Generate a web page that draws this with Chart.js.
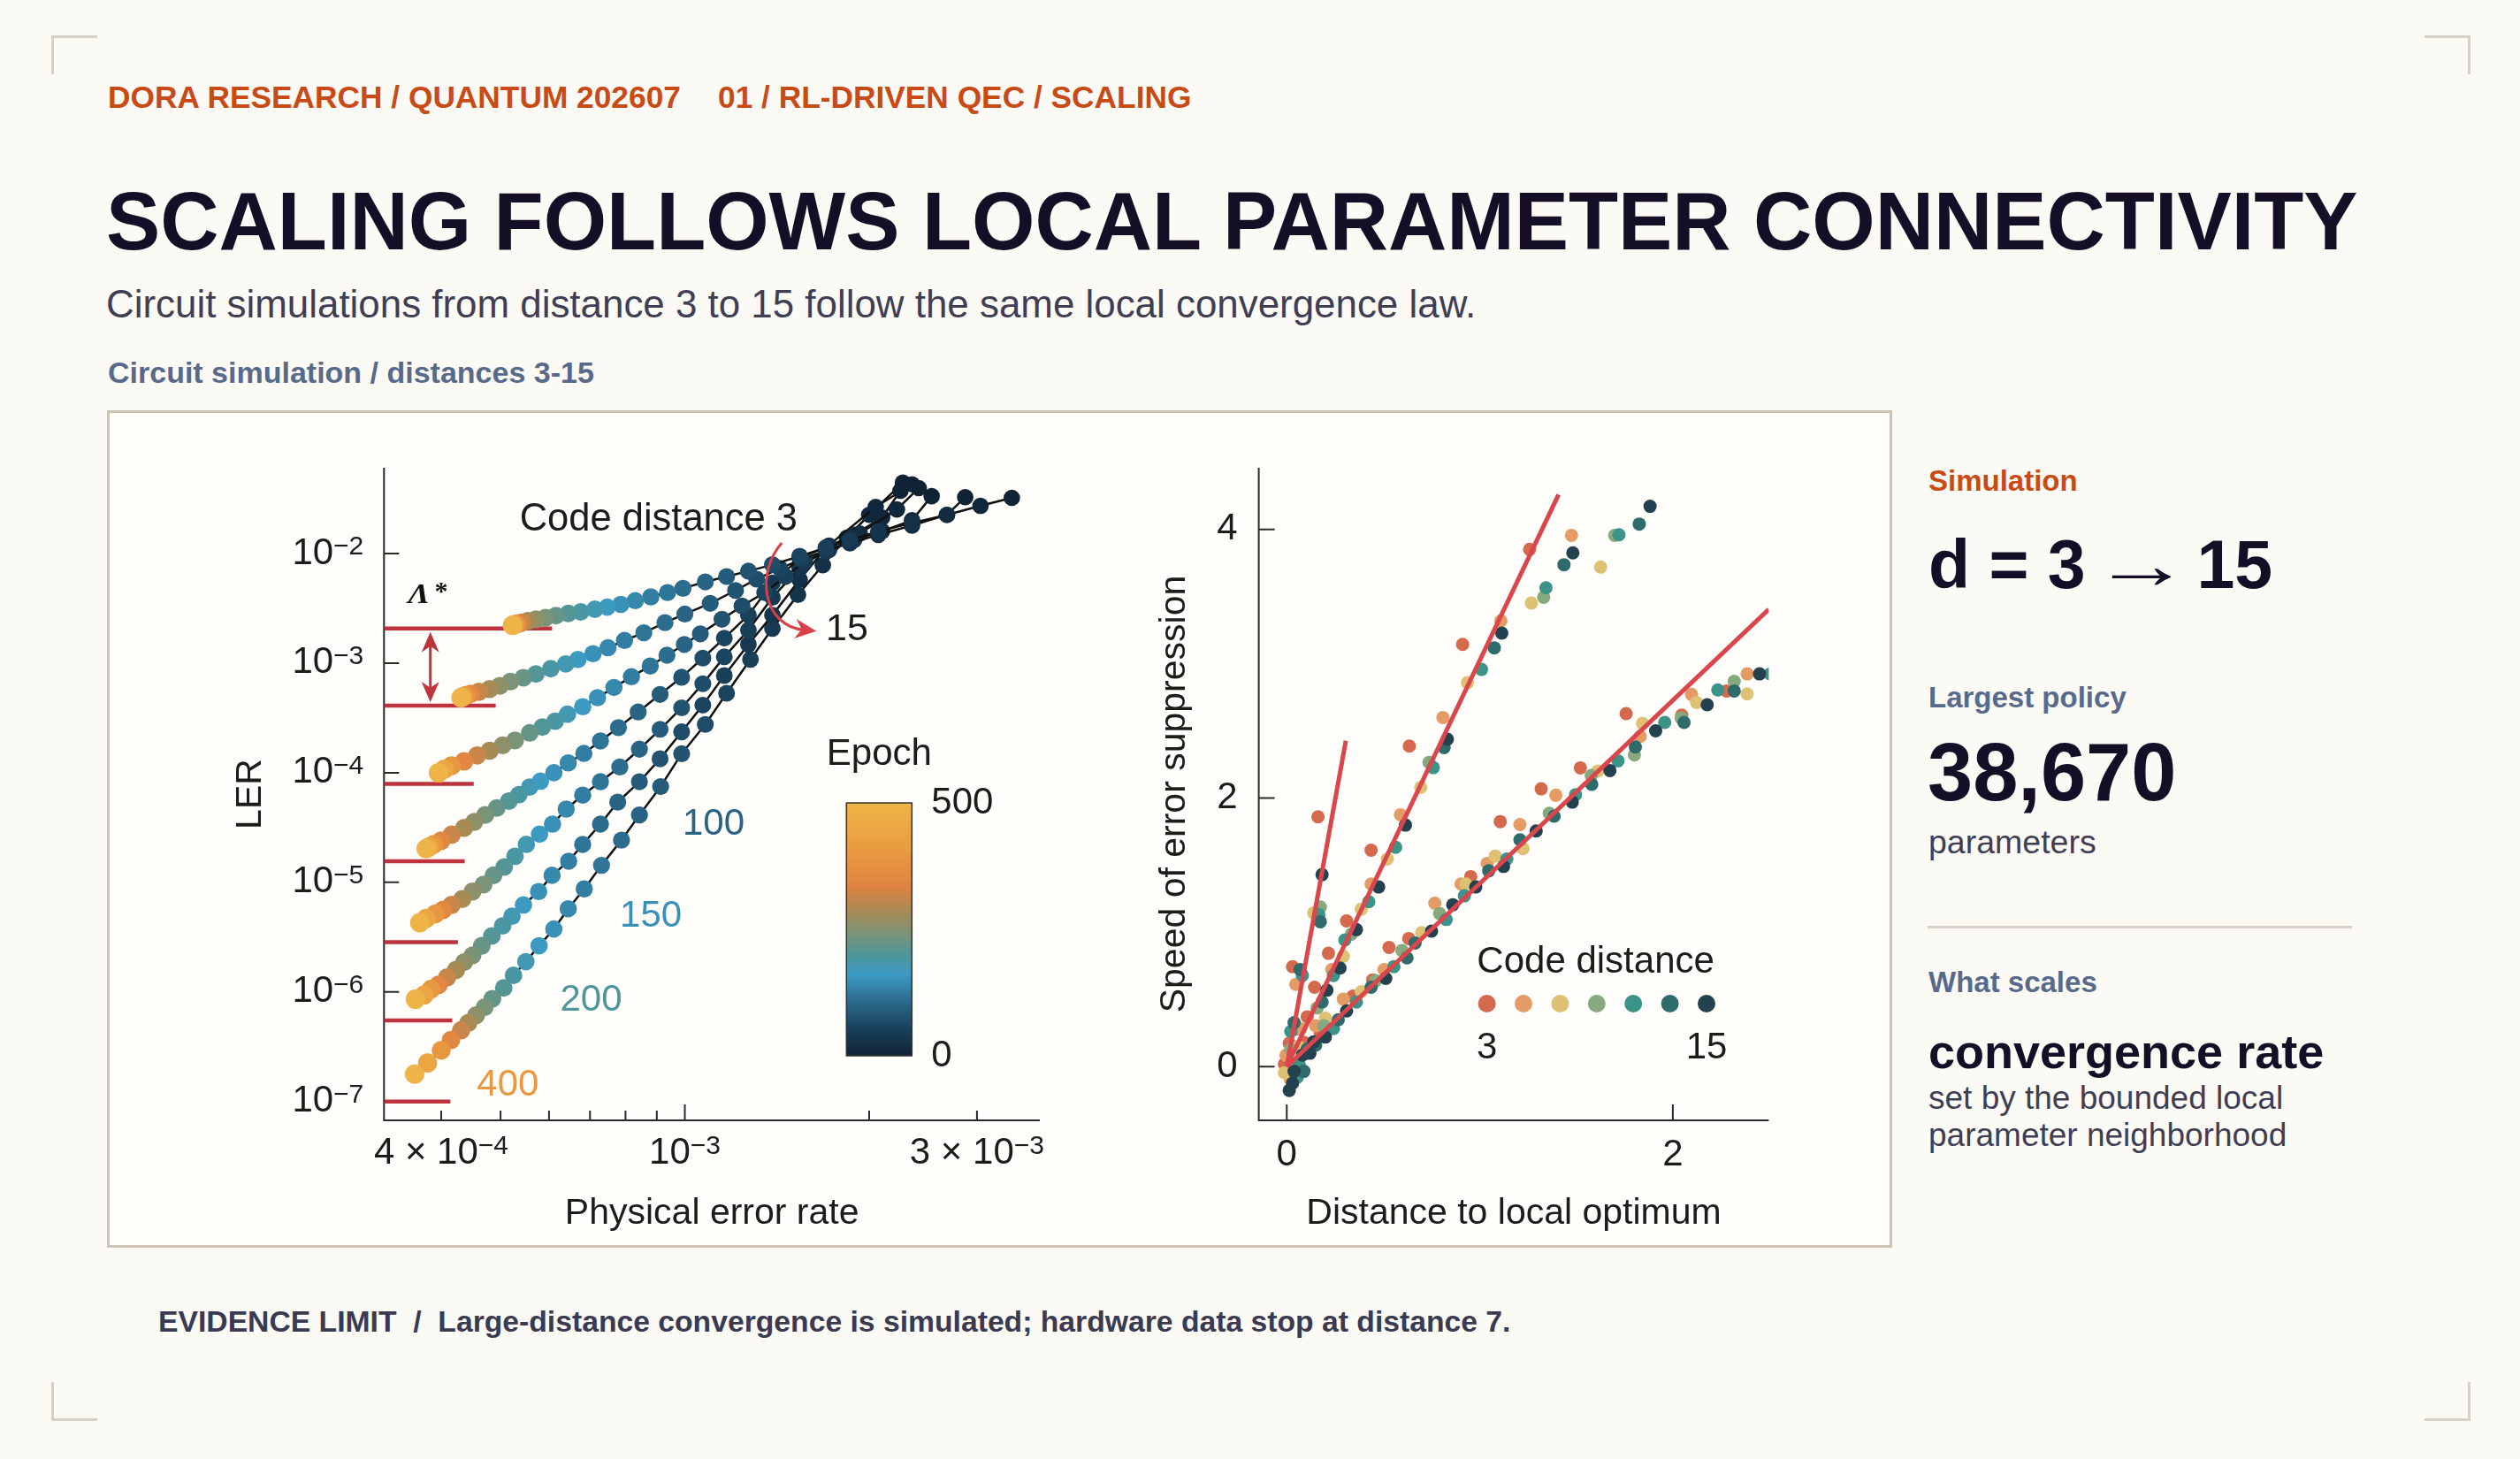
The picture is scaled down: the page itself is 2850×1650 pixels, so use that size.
<!DOCTYPE html>
<html lang="en">
<head>
<meta charset="utf-8">
<title>Scaling follows local parameter connectivity</title>
<script src="https://cdn.jsdelivr.net/npm/chart.js@4.4.1/dist/chart.umd.min.js"></script>
<style>
  html, body { margin: 0; padding: 0; }
  body {
    width: 2850px; height: 1650px; position: relative; overflow: hidden;
    background: #fcfaf5;
    font-family: "Liberation Sans", Arial, Helvetica, sans-serif;
  }
  .t { position: absolute; line-height: 1; white-space: nowrap; }
  .b { font-weight: bold; }
  .corner { position: absolute; background: #d5d1c9; }
  #panel {
    position: absolute; left: 121px; top: 464px; width: 2019px; height: 947px;
    box-sizing: border-box; border: 3px solid #cfc1b2; background: #fffefa;
  }
  .arrow { font-weight: normal; display: inline-block; transform: scaleX(1.45); margin: 0 3px; }
  canvas { position: absolute; }
</style>
</head>
<body>

<div class="corner" style="left:58px;top:40px;width:52px;height:3px"></div>
<div class="corner" style="left:58px;top:40px;width:3px;height:44px"></div>
<div class="corner" style="left:2742px;top:40px;width:52px;height:3px"></div>
<div class="corner" style="left:2791px;top:40px;width:3px;height:44px"></div>
<div class="corner" style="left:58px;top:1604px;width:52px;height:3px"></div>
<div class="corner" style="left:58px;top:1563px;width:3px;height:44px"></div>
<div class="corner" style="left:2742px;top:1604px;width:52px;height:3px"></div>
<div class="corner" style="left:2791px;top:1563px;width:3px;height:44px"></div>

<div class="t b" style="left:122px;top:92px;font-size:35.3px;color:#c84b17">DORA RESEARCH / QUANTUM 202607</div>
<div class="t b" style="left:812px;top:92px;font-size:35.3px;color:#c84b17">01 / RL-DRIVEN QEC / SCALING</div>
<div class="t b" style="left:120px;top:205px;font-size:91.8px;color:#140f26">SCALING FOLLOWS LOCAL PARAMETER CONNECTIVITY</div>
<div class="t" style="left:120px;top:322px;font-size:43.9px;color:#3f3e55">Circuit simulations from distance 3 to 15 follow the same local convergence law.</div>
<div class="t b" style="left:122px;top:404px;font-size:34px;color:#586a8c">Circuit simulation / distances 3-15</div>

<div id="panel"></div>
<canvas id="lerChart" width="1100" height="935" style="left:130px;top:470px"></canvas>
<canvas id="speedChart" width="890" height="935" style="left:1240px;top:470px"></canvas>

<div class="t b" style="left:2181px;top:527px;font-size:33px;color:#c84b17">Simulation</div>
<div class="t b" style="left:2181px;top:600px;font-size:77px;color:#140f26">d = 3 <span class="arrow">→</span> 15</div>
<div class="t b" style="left:2181px;top:772px;font-size:33px;color:#586a8c">Largest policy</div>
<div class="t b" style="left:2180px;top:827px;font-size:92px;color:#140f26">38,670</div>
<div class="t" style="left:2181px;top:934px;font-size:37.5px;color:#3f3e55">parameters</div>
<div style="position:absolute;left:2180px;top:1047px;width:480px;height:3px;background:#d8d2c8"></div>
<div class="t b" style="left:2181px;top:1094px;font-size:33px;color:#586a8c">What scales</div>
<div class="t b" style="left:2181px;top:1162px;font-size:54px;color:#140f26">convergence rate</div>
<div class="t" style="left:2181px;top:1223px;font-size:37px;color:#3f3e55">set by the bounded local</div>
<div class="t" style="left:2181px;top:1265px;font-size:37px;color:#3f3e55">parameter neighborhood</div>

<div class="t b" style="left:179px;top:1478px;font-size:33.7px;color:#3a3a52">EVIDENCE LIMIT&nbsp;&nbsp;/&nbsp;&nbsp;Large-distance convergence is simulated; hardware data stop at distance 7.</div>

<script>
// ---------- left panel: LER against physical error rate, one curve per code distance ----------
const DISTANCES = [3, 5, 7, 9, 11, 13, 15];
const EPOCH_MAX = 500;
const EPOCHS = [0, 8, 16, 24, 32, 40, 50, 60, 70, 80, 90, 100, 110, 120, 130, 140, 150, 162, 175, 190, 205, 222, 240, 260, 285, 315, 350, 395, 445, 500];

const PER_D3 = [3.42e-3, 3.04e-3, 2.68e-3, 2.35e-3, 2.07e-3, 1.86e-3, 1.70e-3, 1.54e-3, 1.39e-3, 1.27e-3, 1.17e-3, 1.08e-3, 9.93e-4, 9.37e-4, 8.80e-4, 8.30e-4, 7.86e-4, 7.47e-4, 7.13e-4, 6.76e-4, 6.45e-4, 6.16e-4, 5.92e-4, 5.71e-4, 5.54e-4, 5.41e-4, 5.34e-4, 5.29e-4, 5.25e-4, 5.23e-4];
const LER_D3 = [3.22e-2, 2.72e-2, 2.25e-2, 1.90e-2, 1.59e-2, 1.33e-2, 1.13e-2, 9.45e-3, 7.90e-3, 6.90e-3, 6.16e-3, 5.51e-3, 4.81e-3, 4.40e-3, 4.02e-3, 3.71e-3, 3.43e-3, 3.24e-3, 3.10e-3, 2.93e-3, 2.84e-3, 2.71e-3, 2.59e-3, 2.51e-3, 2.42e-3, 2.34e-3, 2.29e-3, 2.26e-3, 2.24e-3, 2.21e-3];
const PER_D5 = [2.87e-3, 2.68e-3, 2.35e-3, 2.07e-3, 1.86e-3, 1.70e-3, 1.55e-3, 1.43e-3, 1.31e-3, 1.21e-3, 1.10e-3, 1.00e-3, 9.28e-4, 8.57e-4, 7.97e-4, 7.49e-4, 7.08e-4, 6.69e-4, 6.39e-4, 6.04e-4, 5.71e-4, 5.45e-4, 5.19e-4, 4.99e-4, 4.80e-4, 4.61e-4, 4.47e-4, 4.39e-4, 4.34e-4, 4.31e-4];
const LER_D5 = [3.26e-2, 2.25e-2, 1.80e-2, 1.48e-2, 1.24e-2, 1.06e-2, 8.84e-3, 7.30e-3, 5.83e-3, 4.60e-3, 3.51e-3, 2.80e-3, 2.34e-3, 1.89e-3, 1.61e-3, 1.38e-3, 1.22e-3, 1.08e-3, 9.84e-4, 8.90e-4, 7.95e-4, 7.35e-4, 6.79e-4, 6.21e-4, 5.80e-4, 5.48e-4, 5.24e-4, 5.07e-4, 4.95e-4, 4.84e-4];
const PER_D7 = [2.53e-3, 2.35e-3, 2.10e-3, 1.89e-3, 1.72e-3, 1.57e-3, 1.46e-3, 1.35e-3, 1.24e-3, 1.15e-3, 1.06e-3, 9.98e-4, 9.35e-4, 8.78e-4, 8.18e-4, 7.66e-4, 7.20e-4, 6.81e-4, 6.43e-4, 6.14e-4, 5.85e-4, 5.58e-4, 5.28e-4, 5.04e-4, 4.80e-4, 4.58e-4, 4.36e-4, 4.16e-4, 4.05e-4, 3.96e-4];
const LER_D7 = [3.33e-2, 2.01e-2, 1.60e-2, 1.33e-2, 1.08e-2, 8.45e-3, 6.16e-3, 4.40e-3, 3.32e-3, 2.51e-3, 1.85e-3, 1.48e-3, 1.18e-3, 9.41e-4, 7.51e-4, 6.00e-4, 4.84e-4, 4.00e-4, 3.42e-4, 2.95e-4, 2.61e-4, 2.31e-4, 1.97e-4, 1.78e-4, 1.59e-4, 1.44e-4, 1.27e-4, 1.16e-4, 1.08e-4, 1.00e-4];
const PER_D9 = [2.41e-3, 2.22e-3, 1.93e-3, 1.72e-3, 1.54e-3, 1.39e-3, 1.27e-3, 1.16e-3, 1.07e-3, 9.88e-4, 9.11e-4, 8.39e-4, 7.79e-4, 7.28e-4, 6.84e-4, 6.45e-4, 6.11e-4, 5.81e-4, 5.58e-4, 5.36e-4, 5.16e-4, 4.93e-4, 4.72e-4, 4.53e-4, 4.36e-4, 4.16e-4, 4.00e-4, 3.89e-4, 3.82e-4, 3.78e-4];
const LER_D9 = [3.95e-2, 2.52e-2, 1.52e-2, 1.18e-2, 9.04e-3, 5.38e-3, 2.74e-3, 1.69e-3, 1.11e-3, 7.43e-4, 5.18e-4, 3.58e-4, 2.58e-4, 1.95e-4, 1.50e-4, 1.23e-4, 1.00e-4, 8.37e-5, 7.40e-5, 6.32e-5, 5.52e-5, 4.77e-5, 4.12e-5, 3.56e-5, 3.14e-5, 2.72e-5, 2.40e-5, 2.22e-5, 2.10e-5, 2.03e-5];
const PER_D11 = [2.25e-3, 2.10e-3, 1.89e-3, 1.70e-3, 1.54e-3, 1.39e-3, 1.27e-3, 1.16e-3, 1.07e-3, 9.88e-4, 9.11e-4, 8.43e-4, 7.83e-4, 7.28e-4, 6.81e-4, 6.40e-4, 6.08e-4, 5.79e-4, 5.51e-4, 5.28e-4, 5.07e-4, 4.87e-4, 4.69e-4, 4.50e-4, 4.33e-4, 4.16e-4, 4.03e-4, 3.91e-4, 3.78e-4, 3.69e-4];
const LER_D11 = [3.73e-2, 2.13e-2, 1.48e-2, 1.08e-2, 7.38e-3, 3.97e-3, 2.00e-3, 1.14e-3, 6.49e-4, 3.91e-4, 2.49e-4, 1.64e-4, 1.13e-4, 8.28e-5, 6.25e-5, 4.66e-5, 3.40e-5, 2.75e-5, 2.22e-5, 1.73e-5, 1.38e-5, 1.16e-5, 9.54e-6, 8.24e-6, 7.04e-6, 6.22e-6, 5.62e-6, 5.14e-6, 4.69e-6, 4.29e-6];
const PER_D13 = [2.35e-3, 2.05e-3, 1.70e-3, 1.54e-3, 1.39e-3, 1.27e-3, 1.16e-3, 1.07e-3, 9.88e-4, 9.11e-4, 8.43e-4, 7.77e-4, 7.28e-4, 6.81e-4, 6.46e-4, 6.07e-4, 5.77e-4, 5.45e-4, 5.22e-4, 5.04e-4, 4.84e-4, 4.66e-4, 4.50e-4, 4.36e-4, 4.23e-4, 4.09e-4, 3.96e-4, 3.85e-4, 3.75e-4, 3.63e-4];
const LER_D13 = [4.27e-2, 2.66e-2, 1.13e-2, 5.76e-3, 2.74e-3, 1.48e-3, 7.69e-4, 4.14e-4, 2.36e-4, 1.34e-4, 8.28e-5, 5.40e-5, 3.40e-5, 2.22e-5, 1.56e-5, 1.16e-5, 8.24e-6, 6.22e-6, 4.91e-6, 4.01e-6, 3.24e-6, 2.64e-6, 2.16e-6, 1.87e-6, 1.59e-6, 1.36e-6, 1.16e-6, 1.06e-6, 9.39e-7, 8.58e-7];
const PER_D15 = [2.27e-3, 2.00e-3, 1.84e-3, 1.68e-3, 1.53e-3, 1.39e-3, 1.28e-3, 1.17e-3, 1.08e-3, 9.88e-4, 9.13e-4, 8.43e-4, 7.88e-4, 7.31e-4, 6.85e-4, 6.45e-4, 6.11e-4, 5.78e-4, 5.50e-4, 5.25e-4, 5.06e-4, 4.85e-4, 4.71e-4, 4.56e-4, 4.43e-4, 4.31e-4, 4.15e-4, 4.00e-4, 3.80e-4, 3.62e-4];
const LER_D15 = [4.42e-2, 2.25e-2, 1.39e-2, 7.81e-3, 4.20e-3, 2.07e-3, 1.08e-3, 5.30e-4, 2.76e-4, 1.49e-4, 7.48e-5, 4.12e-5, 2.43e-5, 1.43e-5, 8.72e-6, 5.75e-6, 3.75e-6, 2.64e-6, 1.89e-6, 1.42e-6, 1.09e-6, 8.68e-7, 7.25e-7, 6.12e-7, 5.23e-7, 4.47e-7, 3.65e-7, 2.94e-7, 2.25e-7, 1.78e-7];

// converged LER per distance (the red Lambda* levels) and where each red bar stops
const LAMBDA_LER = [2.07e-3, 4.1e-4, 7.9e-5, 1.56e-5, 2.85e-6, 5.5e-7, 1.0e-7];
const LAMBDA_PER_END = [6.07e-4, 4.91e-4, 4.52e-4, 4.37e-4, 4.26e-4, 4.17e-4, 4.14e-4];

// axes of the left panel
const PER_MIN = 3.226e-4, PER_MAX = 3.80e-3;
const LER_MIN = 6.75e-8, LER_MAX = 6.05e-2;
const LER_TICKS = [1e-2, 1e-3, 1e-4, 1e-5, 1e-6, 1e-7];
const PER_TICKS = [4e-4, 5e-4, 6e-4, 7e-4, 8e-4, 9e-4, 1e-3, 2e-3, 3e-3];
const PER_LABELED = [4e-4, 1e-3, 3e-3];
const PER_TICK_TEXT = [['4 × 10', '−4'], ['10', '−3'], ['3 × 10', '−3']];

// epoch annotations written beside the d = 15 curve
const EPOCH_NOTES = [100, 150, 200, 400];
const EPOCH_NOTE_PER = [1.114e-3, 8.80e-4, 7.03e-4, 5.14e-4];
const EPOCH_NOTE_LER = [3.4e-5, 4.89e-6, 8.37e-7, 1.42e-7];

// ---------- right panel: speed of error suppression against distance to local optimum ----------
const DIST_D3 = [1.258, 0.911, 0.635, 2.278, 2.046, 1.758, 1.521, 1.318, 0.162, 0.030, 0.144, 0.013, 0.437, 0.310, 0.216, 0.106, 1.106, 0.953, 0.632, 0.530, 0.445, 0.343, 0.174, -0.012, 0.05, 0.09];
const SPEED_D3 = [3.852, 3.145, 2.387, 2.798, 2.618, 2.629, 2.225, 2.069, 1.860, 0.744, 0.591, 0.174, 1.612, 1.085, 0.844, 0.371, 1.825, 1.415, 0.954, 0.887, 0.646, 0.525, 0.250, 0.020, 0.28, 0.18];
const DIST_D5 = [1.475, 1.109, 0.809, 2.385, 2.097, 1.831, 1.394, 0.047, 0.589, 0.437, 0.233, 0.072, 1.208, 1.038, 0.903, 0.767, 0.504, 0.293, 0.149, -0.004, 0.02];
const SPEED_D5 = [3.957, 3.321, 2.600, 2.925, 2.772, 2.460, 2.021, 0.613, 1.876, 1.360, 0.723, 0.283, 1.803, 1.513, 1.360, 1.217, 0.723, 0.503, 0.305, 0.086, -0.10];
const DIST_D7 = [1.626, 1.267, 0.936, 0.694, 2.385, 2.123, 1.843, 1.611, 0.140, 0.521, 0.386, 0.293, 1.224, 1.080, 0.928, 0.699, 0.386, -0.012, 0.06, 0.20];
const SPEED_D7 = [3.720, 3.452, 2.859, 2.080, 2.776, 2.712, 2.556, 2.201, 1.144, 1.546, 1.173, 0.822, 1.623, 1.568, 1.360, 0.998, 0.558, -0.046, 0.15, 0.36];
const DIST_D9 = [1.699, 1.331, 0.737, 2.318, 2.043, 1.801, 1.577, 0.174, 0.335, 0.157, 1.360, 0.792, 0.597, 0.193, 0.021, 0.10, 0.46];
const SPEED_D9 = [3.957, 3.496, 2.266, 2.870, 2.596, 2.321, 2.168, 1.189, 0.987, 0.437, 1.887, 1.140, 0.865, 0.305, 0.130, 0.10, 0.64];
const DIST_D11 = [1.721, 1.343, 1.009, 0.759, 2.504, 2.233, 1.958, 1.716, 1.496, 0.166, 0.081, 0.021, 0.564, 0.425, 0.301, 0.242, 1.140, 0.920, 0.826, 0.555, 0.361, 0.242, 0.064, 0.055];
const SPEED_D11 = [3.961, 3.566, 2.958, 2.227, 2.925, 2.805, 2.563, 2.277, 2.025, 1.133, 0.679, 0.262, 1.634, 1.228, 0.943, 0.679, 1.546, 1.272, 1.096, 0.745, 0.481, 0.283, 0.020, -0.079];
const DIST_D13 = [1.436, 1.826, 1.075, 0.815, 2.318, 2.058, 1.806, 1.580, 0.174, 0.069, 0.038, 0.183, 1.208, 1.385, 1.046, 0.665, 0.623, 0.437, 0.267, 0.106, 0.089, 0.15];
const SPEED_D13 = [3.738, 4.041, 3.119, 2.376, 2.798, 2.563, 2.381, 2.102, 1.079, 0.723, 0.327, 0.481, 1.689, 1.865, 1.458, 0.920, 0.810, 0.591, 0.349, 0.130, -0.035, 0.16];
const DIST_D15 = [1.482, 1.882, 1.114, 0.832, 2.449, 2.178, 1.911, 1.674, 1.479, 0.183, 0.615, 0.476, 0.361, 0.276, 0.208, 1.292, 1.123, 0.979, 0.860, 0.750, 0.513, 0.310, 0.140, 0.081, 0.038, 0.013, 0.030, 0.12, 0.20];
const SPEED_D15 = [3.826, 4.173, 3.229, 2.438, 2.925, 2.695, 2.501, 2.205, 1.970, 1.430, 1.799, 1.338, 1.020, 0.734, 0.569, 1.755, 1.491, 1.338, 1.206, 1.009, 0.657, 0.415, 0.185, 0.086, -0.035, -0.177, -0.123, 0.10, 0.22];

// three linear fits through the origin
const FIT_END_X = [0.306, 1.408, 2.497];
const FIT_END_Y = [2.427, 4.26, 3.406];

const DIST_MIN = -0.145, DIST_MAX = 2.497;
const SPEED_MIN = -0.40, SPEED_MAX = 4.46;
const DIST_TICKS = [0, 2];
const SPEED_TICKS = [0, 2, 4];

// ---------- styling ----------
const PER_SERIES = [PER_D3, PER_D5, PER_D7, PER_D9, PER_D11, PER_D13, PER_D15];
const LER_SERIES = [LER_D3, LER_D5, LER_D7, LER_D9, LER_D11, LER_D13, LER_D15];
const DIST_SERIES = [DIST_D3, DIST_D5, DIST_D7, DIST_D9, DIST_D11, DIST_D13, DIST_D15];
const SPEED_SERIES = [SPEED_D3, SPEED_D5, SPEED_D7, SPEED_D9, SPEED_D11, SPEED_D13, SPEED_D15];
const DIST_COLORS = ['#d4694e', '#e49b65', '#dfc173', '#86a97f', '#3c9387', '#2e6b6a', '#24414f'];
const EPOCH_STOPS = [[0, '#0f2335'], [0.12, '#1b4460'], [0.22, '#2c6c8d'], [0.32, '#3c9ac3'], [0.40, '#4e9699'],
                     [0.48, '#7a9479'], [0.57, '#a78b55'], [0.67, '#e08243'], [0.80, '#e8993f'], [1, '#eeb447']];
const INK = '#1c1c1c';
const AXIS_COLOR = '#2a2a2a';
const LAMBDA_RED = '#bf333d';
const ARROW_RED = '#d9404a';
const FIT_RED = '#d9474d';
const FONT = '"Liberation Sans", Arial, Helvetica, sans-serif';
const SERIF = '"Liberation Serif", "DejaVu Serif", serif';

function hexToRgb(h) {
  const n = parseInt(h.slice(1), 16);
  return [n >> 16, (n >> 8) & 255, n & 255];
}

function epochColor(e) {
  const f = Math.max(0, Math.min(1, e / EPOCH_MAX));
  for (let i = 1; i < EPOCH_STOPS.length; i++) {
    if (f <= EPOCH_STOPS[i][0]) {
      const [f0, c0] = EPOCH_STOPS[i - 1];
      const [f1, c1] = EPOCH_STOPS[i];
      const t = (f - f0) / (f1 - f0);
      const a = hexToRgb(c0), b = hexToRgb(c1);
      return 'rgb(' + a.map((v, k) => Math.round(v + (b[k] - v) * t)).join(',') + ')';
    }
  }
  return EPOCH_STOPS[EPOCH_STOPS.length - 1][1];
}

// text with a raised exponent, e.g. 10^-3
function powText(ctx, base, exp, x, y, align) {
  ctx.font = '42px ' + FONT;
  const wb = ctx.measureText(base).width;
  ctx.font = '30px ' + FONT;
  const we = ctx.measureText(exp).width;
  const total = wb + we;
  let x0 = x;
  if (align === 'right') x0 = x - total;
  if (align === 'center') x0 = x - total / 2;
  ctx.textAlign = 'left';
  ctx.font = '42px ' + FONT;
  ctx.textBaseline = 'middle';
  ctx.fillText(base, x0, y);
  ctx.font = '30px ' + FONT;
  ctx.textBaseline = 'alphabetic';
  ctx.fillText(exp, x0 + wb, y + 1);
}

function label(ctx, text, x, y, align, size, color) {
  ctx.font = (size || 42) + 'px ' + FONT;
  ctx.fillStyle = color || INK;
  ctx.textAlign = align || 'center';
  ctx.textBaseline = 'middle';
  ctx.fillText(text, x, y);
}

function arrowHead(ctx, x, y, ang, len, half) {
  ctx.save();
  ctx.translate(x, y);
  ctx.rotate(ang);
  ctx.beginPath();
  ctx.moveTo(0, 0);
  ctx.lineTo(-len, -half);
  ctx.lineTo(-len * 0.7, 0);
  ctx.lineTo(-len, half);
  ctx.closePath();
  ctx.fill();
  ctx.restore();
}

// keep the axes on the exact limits instead of rounded tick bounds
function pinLimits(min, max) {
  return scale => { scale.min = min; scale.max = max; };
}

// ---------- left chart ----------
const lerDecor = {
  id: 'lerDecor',
  beforeDatasetsDraw(chart) {
    const { ctx, chartArea: a, scales: { x, y } } = chart;
    ctx.save();
    ctx.strokeStyle = AXIS_COLOR;
    ctx.lineWidth = 2;
    ctx.beginPath();
    ctx.moveTo(a.left, a.top);
    ctx.lineTo(a.left, a.bottom);
    ctx.lineTo(a.right, a.bottom);
    LER_TICKS.forEach(v => {
      const py = y.getPixelForValue(v);
      ctx.moveTo(a.left, py);
      ctx.lineTo(a.left + 17, py);
    });
    PER_TICKS.forEach(v => {
      const px = x.getPixelForValue(v);
      ctx.moveTo(px, a.bottom);
      ctx.lineTo(px, a.bottom - (v === 1e-3 ? 18 : 11));
    });
    ctx.stroke();
    ctx.restore();
  },
  afterDatasetsDraw(chart) {
    const { ctx, chartArea: a, scales: { x, y } } = chart;
    ctx.save();
    ctx.fillStyle = INK;
    LER_TICKS.forEach(v => {
      powText(ctx, '10', '−' + Math.round(-Math.log10(v)), a.left - 23, y.getPixelForValue(v), 'right');
    });
    PER_LABELED.forEach((v, i) => {
      powText(ctx, PER_TICK_TEXT[i][0], PER_TICK_TEXT[i][1], x.getPixelForValue(v), a.bottom + 37, 'center');
    });
    label(ctx, 'Physical error rate', (a.left + a.right) / 2, a.bottom + 106, 'center', 41);
    ctx.save();
    ctx.translate(a.left - 151, (a.top + a.bottom) / 2);
    ctx.rotate(-Math.PI / 2);
    label(ctx, 'LER', 0, 0, 'center', 41);
    ctx.restore();

    // Lambda* double arrow between the d = 3 and d = 5 floors
    const ax = x.getPixelForValue(3.84e-4);
    const y1 = y.getPixelForValue(LAMBDA_LER[0]) + 4;
    const y2 = y.getPixelForValue(LAMBDA_LER[1]) - 4;
    ctx.strokeStyle = LAMBDA_RED;
    ctx.fillStyle = LAMBDA_RED;
    ctx.lineWidth = 3;
    ctx.beginPath();
    ctx.moveTo(ax, y1 + 14);
    ctx.lineTo(ax, y2 - 14);
    ctx.stroke();
    arrowHead(ctx, ax, y1, -Math.PI / 2, 23, 10);
    arrowHead(ctx, ax, y2, Math.PI / 2, 23, 10);
    ctx.fillStyle = '#111';
    const lx = x.getPixelForValue(3.53e-4), ly = y.getPixelForValue(3.54e-3);
    ctx.save();
    ctx.translate(lx, ly);
    ctx.scale(1.15, 1);
    ctx.font = 'italic bold 32px ' + SERIF;
    ctx.textAlign = 'left';
    ctx.textBaseline = 'alphabetic';
    ctx.fillText('Λ', 0, 0);
    ctx.restore();
    ctx.font = 'bold 30px ' + SERIF;
    ctx.textAlign = 'left';
    ctx.textBaseline = 'alphabetic';
    ctx.fillText('*', lx + 30, ly - 4);

    // code distance arrow 3 -> 15
    label(ctx, 'Code distance 3', x.getPixelForValue(9.06e-4), y.getPixelForValue(2.02e-2), 'center', 43.5);
    label(ctx, '15', x.getPixelForValue(1.70e-3), y.getPixelForValue(2.02e-3), 'left', 43);
    const p0 = [x.getPixelForValue(1.44e-3), y.getPixelForValue(1.25e-2)];
    const c1 = [x.getPixelForValue(1.31e-3), y.getPixelForValue(6.9e-3)];
    const c2 = [x.getPixelForValue(1.33e-3), y.getPixelForValue(2.24e-3)];
    const p3 = [x.getPixelForValue(1.64e-3), y.getPixelForValue(1.96e-3)];
    ctx.strokeStyle = ARROW_RED;
    ctx.fillStyle = ARROW_RED;
    ctx.lineWidth = 3;
    ctx.beginPath();
    ctx.moveTo(p0[0], p0[1]);
    ctx.bezierCurveTo(c1[0], c1[1], c2[0], c2[1], p3[0] - 14, p3[1] - 1);
    ctx.stroke();
    arrowHead(ctx, p3[0], p3[1], Math.atan2(p3[1] - c2[1], p3[0] - c2[0]), 24, 11);

    // epoch notes
    EPOCH_NOTES.forEach((e, i) => {
      label(ctx, String(e), x.getPixelForValue(EPOCH_NOTE_PER[i]), y.getPixelForValue(EPOCH_NOTE_LER[i]), 'center', 42, epochColor(e));
    });

    // epoch colour bar
    const cbx = a.left + 523, cby = a.top + 379, cbw = 74, cbh = 286;
    const g = ctx.createLinearGradient(0, cby + cbh, 0, cby);
    EPOCH_STOPS.forEach(s => g.addColorStop(s[0], s[1]));
    ctx.fillStyle = g;
    ctx.fillRect(cbx, cby, cbw, cbh);
    ctx.strokeStyle = '#333';
    ctx.lineWidth = 1.5;
    ctx.strokeRect(cbx, cby, cbw, cbh);
    label(ctx, 'Epoch', cbx + cbw / 2, cby - 55, 'center', 42);
    label(ctx, String(EPOCH_MAX), cbx + cbw + 22, cby, 'left', 42);
    label(ctx, '0', cbx + cbw + 22, cby + cbh, 'left', 42);
    ctx.restore();
  }
};

const curveSets = DISTANCES.map((d, i) => ({
  label: 'd = ' + d,
  data: PER_SERIES[i].map((p, k) => ({ x: p, y: LER_SERIES[i][k] })),
  showLine: true,
  borderColor: '#111',
  borderWidth: 2.5,
  pointBackgroundColor: EPOCHS.map(epochColor),
  pointRadius: EPOCHS.map(e => 9.3 + 1.7 * e / EPOCH_MAX),
  pointBorderWidth: 0,
  pointHoverRadius: 0
}));
const lambdaSets = LAMBDA_LER.map((lev, i) => ({
  label: 'Lambda* d = ' + DISTANCES[i],
  data: [{ x: PER_MIN, y: lev }, { x: LAMBDA_PER_END[i], y: lev }],
  showLine: true,
  borderColor: LAMBDA_RED,
  borderWidth: 4.5,
  borderCapStyle: 'butt',
  pointRadius: 0
}));

new Chart(document.getElementById('lerChart'), {
  type: 'scatter',
  data: { datasets: [...curveSets, ...lambdaSets] },
  options: {
    responsive: false,
    animation: false,
    events: [],
    layout: { padding: { left: 304.3, right: 54, top: 59, bottom: 138 } },
    plugins: { legend: { display: false }, tooltip: { enabled: false } },
    scales: {
      x: { type: 'logarithmic', bounds: 'data', min: PER_MIN, max: PER_MAX, display: false,
           afterBuildTicks: pinLimits(PER_MIN, PER_MAX) },
      y: { type: 'logarithmic', bounds: 'data', min: LER_MIN, max: LER_MAX, display: false,
           afterBuildTicks: pinLimits(LER_MIN, LER_MAX) }
    }
  },
  plugins: [lerDecor]
});

// ---------- right chart ----------
const speedDecor = {
  id: 'speedDecor',
  beforeDatasetsDraw(chart) {
    const { ctx, chartArea: a, scales: { x, y } } = chart;
    ctx.save();
    ctx.strokeStyle = AXIS_COLOR;
    ctx.lineWidth = 2;
    ctx.beginPath();
    ctx.moveTo(a.left, a.top);
    ctx.lineTo(a.left, a.bottom);
    ctx.lineTo(a.right, a.bottom);
    SPEED_TICKS.forEach(v => {
      const py = y.getPixelForValue(v);
      ctx.moveTo(a.left, py);
      ctx.lineTo(a.left + 18, py);
    });
    DIST_TICKS.forEach(v => {
      const px = x.getPixelForValue(v);
      ctx.moveTo(px, a.bottom);
      ctx.lineTo(px, a.bottom - 18);
    });
    ctx.stroke();
    ctx.restore();
  },
  afterDatasetsDraw(chart) {
    const { ctx, chartArea: a, scales: { x, y } } = chart;
    ctx.save();
    SPEED_TICKS.forEach(v => label(ctx, String(v), a.left - 24, y.getPixelForValue(v), 'right', 42));
    DIST_TICKS.forEach(v => label(ctx, String(v), x.getPixelForValue(v), a.bottom + 39, 'center', 42));
    label(ctx, 'Distance to local optimum', (a.left + a.right) / 2, a.bottom + 106, 'center', 41);
    ctx.save();
    ctx.translate(a.left - 95, (a.top + a.bottom) / 2);
    ctx.rotate(-Math.PI / 2);
    label(ctx, 'Speed of error suppression', 0, 0, 'center', 41);
    ctx.restore();

    // colour key for code distance
    label(ctx, 'Code distance', a.left + 381, a.top + 559, 'center', 42);
    DIST_COLORS.forEach((c, i) => {
      ctx.fillStyle = c;
      ctx.beginPath();
      ctx.arc(a.left + 258 + i * 41.4, a.top + 606, 10, 0, Math.PI * 2);
      ctx.fill();
    });
    label(ctx, String(DISTANCES[0]), a.left + 258, a.top + 656, 'center', 42);
    label(ctx, String(DISTANCES[DISTANCES.length - 1]), a.left + 258 + 6 * 41.4, a.top + 656, 'center', 42);
    ctx.restore();
  }
};

const fitSets = FIT_END_X.map((ex, i) => ({
  label: 'fit ' + (i + 1),
  data: [{ x: 0, y: 0 }, { x: ex, y: FIT_END_Y[i] }],
  showLine: true,
  borderColor: FIT_RED,
  borderWidth: 5,
  pointRadius: 0
}));
const distSets = DISTANCES.map((d, i) => ({
  label: 'd = ' + d,
  data: DIST_SERIES[i].map((v, k) => ({ x: v, y: SPEED_SERIES[i][k] })),
  pointRadius: 7.5,
  pointBackgroundColor: DIST_COLORS[i],
  pointBorderWidth: 0,
  pointHoverRadius: 0
})).reverse();

new Chart(document.getElementById('speedChart'), {
  type: 'scatter',
  data: { datasets: [...fitSets, ...distSets] },
  options: {
    responsive: false,
    animation: false,
    events: [],
    layout: { padding: { left: 183.6, right: 129.6, top: 59, bottom: 138 } },
    plugins: { legend: { display: false }, tooltip: { enabled: false } },
    scales: {
      x: { type: 'linear', bounds: 'data', min: DIST_MIN, max: DIST_MAX, display: false,
           afterBuildTicks: pinLimits(DIST_MIN, DIST_MAX) },
      y: { type: 'linear', bounds: 'data', min: SPEED_MIN, max: SPEED_MAX, display: false,
           afterBuildTicks: pinLimits(SPEED_MIN, SPEED_MAX) }
    }
  },
  plugins: [speedDecor]
});
</script>
</body>
</html>
